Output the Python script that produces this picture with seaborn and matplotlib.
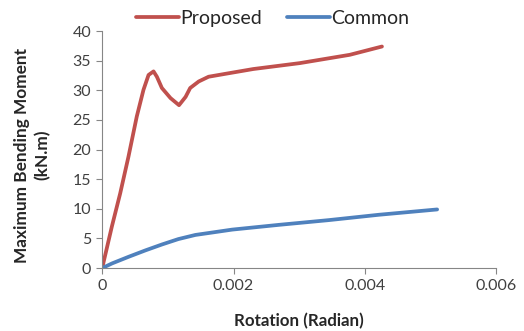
import numpy as np
import pandas as pd
import matplotlib
matplotlib.use("Agg")
import matplotlib.pyplot as plt
import seaborn as sns

# Data
proposed_rot = [0, 0.000147, 0.000274, 0.0004, 0.000527, 0.000629, 0.000706, 0.000782,
                0.000833, 0.000909, 0.00104, 0.00117, 0.00127, 0.00134, 0.00147,
                0.00162, 0.00188, 0.0023, 0.00301, 0.00377, 0.00426]
proposed_mom = [0, 7.0, 12.6, 18.8, 25.6, 30.1, 32.6, 33.2,
                32.3, 30.4, 28.7, 27.5, 28.9, 30.4, 31.5,
                32.3, 32.8, 33.6, 34.6, 36.0, 37.4]
common_rot = [0, 0.000152, 0.0004, 0.00066, 0.000913, 0.00116, 0.00142, 0.00167,
              0.00198, 0.00269, 0.00345, 0.00421, 0.0051]
common_mom = [0, 0.8, 1.9, 3.0, 4.0, 4.9, 5.6, 6.0, 6.5, 7.3, 8.1, 9.0, 9.9]
series_names = ["Proposed", "Common"]
x_ticks = [0, 0.002, 0.004, 0.006]
x_tick_labels = ["0", "0.002", "0.004", "0.006"]
y_ticks = [0, 5, 10, 15, 20, 25, 30, 35, 40]

df = pd.concat([
    pd.DataFrame({"rot": proposed_rot, "mom": proposed_mom, "series": series_names[0]}),
    pd.DataFrame({"rot": common_rot, "mom": common_mom, "series": series_names[1]}),
], ignore_index=True)

sns.set_style("white")
plt.rcParams["font.family"] = ["Lato", "DejaVu Sans"]

fig = plt.figure(figsize=(5.24, 3.31), dpi=100)
ax = fig.add_axes([0.195, 0.190, 0.752, 0.716])

palette = {"Proposed": "#C0504D", "Common": "#4F81BD"}
sns.lineplot(data=df, x="rot", y="mom", hue="series",
             sort=False, estimator=None, palette=palette, linewidth=2.7, ax=ax,
             legend=True)
for ln in ax.lines:
    ln.set_solid_joinstyle("round")
    ln.set_solid_capstyle("round")

ax.set_xlim(0, 0.006)
ax.set_ylim(0, 40)
ax.set_xticks(x_ticks)
ax.set_xticklabels(x_tick_labels)
ax.set_yticks(y_ticks)
ax.tick_params(axis="both", labelsize=11.5, colors="#404040", length=4, width=0.8,
               direction="out", color="#868686", pad=4)
ax.tick_params(axis="both", which="both", left=True, bottom=True)
for s in ["top", "right"]:
    ax.spines[s].set_visible(False)
for s in ["left", "bottom"]:
    ax.spines[s].set_color("#868686")
    ax.spines[s].set_linewidth(0.8)

ax.set_xlabel("Rotation (Radian)", fontsize=12.2, fontweight="bold")
ax.xaxis.set_label_coords(0.5, -0.225)
ax.set_ylabel("Maximum Bending Moment\n(kN.m)", fontsize=12.4, fontweight="bold",
              linespacing=1.35)
ax.yaxis.set_label_coords(-0.178, 0.477)
ax.yaxis.label.set_verticalalignment("center")
ax.xaxis.label.set_verticalalignment("center")

ax.legend(title=None, loc="lower center", bbox_to_anchor=(0.432, 0.985), ncol=2,
          frameon=False, fontsize=14, handlelength=2.2, handletextpad=0.05,
          columnspacing=1.3, borderaxespad=0)

fig.savefig("out.png", dpi=100)
